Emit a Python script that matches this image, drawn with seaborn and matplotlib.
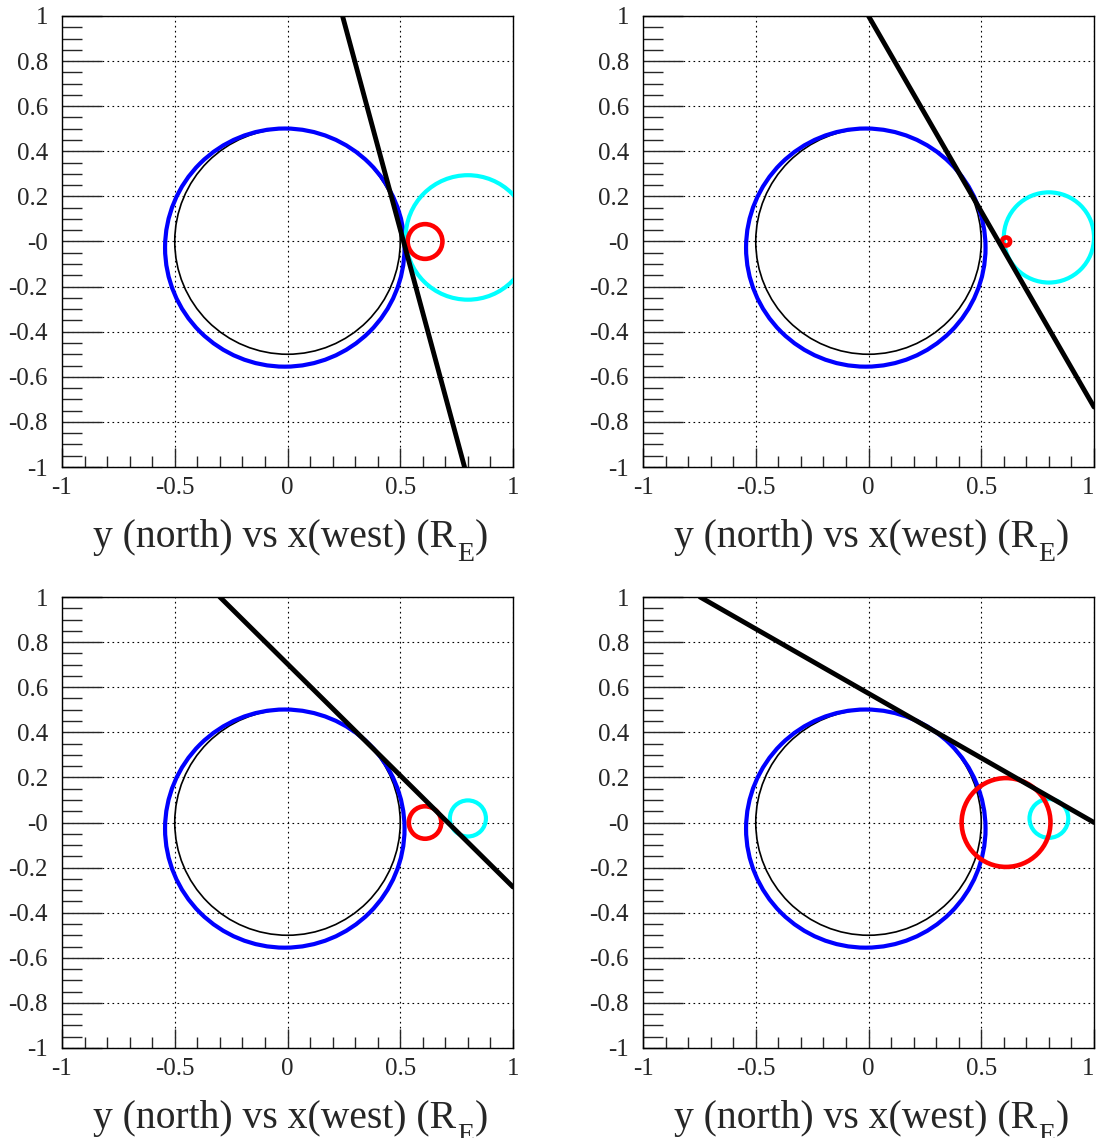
import numpy as np
import pandas as pd
import matplotlib
matplotlib.use("Agg")
import matplotlib.pyplot as plt
from matplotlib.patches import Circle, Ellipse
from matplotlib.ticker import MultipleLocator, FixedLocator
import seaborn as sns

sns.set_style("white")
plt.rcParams['font.family'] = ['Liberation Serif', 'DejaVu Serif']
plt.rcParams['mathtext.fontset'] = 'custom'
plt.rcParams['mathtext.rm'] = 'Liberation Serif'
plt.rcParams['mathtext.it'] = 'Liberation Serif:italic'

# ---- data (one entry per panel: top-left, top-right, bottom-left, bottom-right)
earth_center = (0.0, 0.0)
earth_radius = 0.5
blue_center = (-0.012, -0.027)
blue_width = 1.062
blue_height = 1.056
red_centers = [(0.61, 0.0), (0.61, 0.0), (0.61, 0.0), (0.61, 0.0)]
red_radii = [0.077, 0.018, 0.072, 0.197]
cyan_centers = [(0.80, 0.018), (0.80, 0.018), (0.80, 0.018), (0.80, 0.018)]
cyan_radii = [0.276, 0.200, 0.080, 0.086]
line_x = [[0.244, 0.785], [0.0, 1.0], [-0.30, 1.0], [-0.747, 1.0]]
line_y = [[1.0, -1.0], [1.0, -0.734], [1.0, -0.286], [1.0, 0.0]]

xticks = [-1, -0.5, 0, 0.5, 1]
xticklabels = ["-1", "-0.5", "0", "0.5", "1"]
yticks = [1, 0.8, 0.6, 0.4, 0.2, 0, -0.2, -0.4, -0.6, -0.8, -1]
yticklabels = ["1", "0.8", "0.6", "0.4", "0.2", "-0", "-0.2", "-0.4", "-0.6", "-0.8", "-1"]
xlabel_main = "y (north) vs x(west) (R"
xlabel_sub = "E"
xlabel_end = ")"

W, H = 1096, 1138
fig = plt.figure(figsize=(W / 100, H / 100), dpi=100)
lefts = [62, 643, 62, 643]
tops = [16, 16, 597, 597]
size = 451

for i in range(4):
    ax = fig.add_axes([lefts[i] / W, 1 - (tops[i] + size) / H, size / W, size / H])
    ax.set_xlim(-1, 1)
    ax.set_ylim(-1, 1)

    ax.add_patch(Circle(earth_center, earth_radius, fill=False, color='black', lw=1.2, zorder=3))
    ax.add_patch(Ellipse(blue_center, blue_width, blue_height, fill=False, color='#0000ff', lw=3.0, zorder=3))
    ax.add_patch(Circle(cyan_centers[i], cyan_radii[i], fill=False, color='#00ffff', lw=3.0, zorder=4))
    ax.add_patch(Circle(red_centers[i], red_radii[i], fill=False, color='#ff0000', lw=3.3, zorder=5))

    df = pd.DataFrame({'x': line_x[i], 'y': line_y[i]})
    sns.lineplot(data=df, x='x', y='y', sort=False, color='black', lw=3.5, ax=ax, zorder=6)

    ax.xaxis.set_major_locator(FixedLocator(xticks))
    ax.set_xticklabels(xticklabels)
    ax.yaxis.set_major_locator(FixedLocator(yticks))
    ax.set_yticklabels(yticklabels)
    ax.xaxis.set_minor_locator(MultipleLocator(0.1))
    ax.yaxis.set_minor_locator(MultipleLocator(0.05))
    ax.tick_params(axis='x', which='major', direction='in', length=14, width=1.0,
                   labelsize=18, pad=7, top=False, bottom=True)
    ax.tick_params(axis='x', which='minor', direction='in', length=8, width=1.0, top=False, bottom=True)
    ax.tick_params(axis='y', which='major', direction='in', length=29, width=1.0,
                   labelsize=18, pad=10, right=False, left=True)
    ax.tick_params(axis='y', which='minor', direction='in', length=14.5, width=1.0, right=False, left=True)
    if i in (1, 3):
        lbls = ax.get_xticklabels()
        lbls[-1].set_horizontalalignment('right')
    ax.grid(True, which='major', color='black', linestyle=(0, (1.5, 3)), lw=0.8)
    for s in ax.spines.values():
        s.set_color('black')
        s.set_linewidth(1.0)
    ax.set_xlabel('')
    ax.set_ylabel('')
    ax.set_axisbelow(True)

    # x-axis title with a ROOT-like subscript
    cx = (lefts[i] + size / 2) / W
    by = 1 - (tops[i] + size + 80) / H
    t1 = fig.text(cx - 0.012, by, xlabel_main, fontsize=28.5, ha='center', va='baseline')
    fig.canvas.draw()
    bb = t1.get_window_extent()
    x_end = bb.x1 / W
    t2 = fig.text(x_end + 0.001, by - 14 / H, xlabel_sub, fontsize=20, ha='left', va='baseline')
    bb2 = t2.get_window_extent()
    fig.text(bb2.x1 / W + 0.0005, by, xlabel_end, fontsize=28.5, ha='left', va='baseline')

fig.savefig('out.png', dpi=100)
